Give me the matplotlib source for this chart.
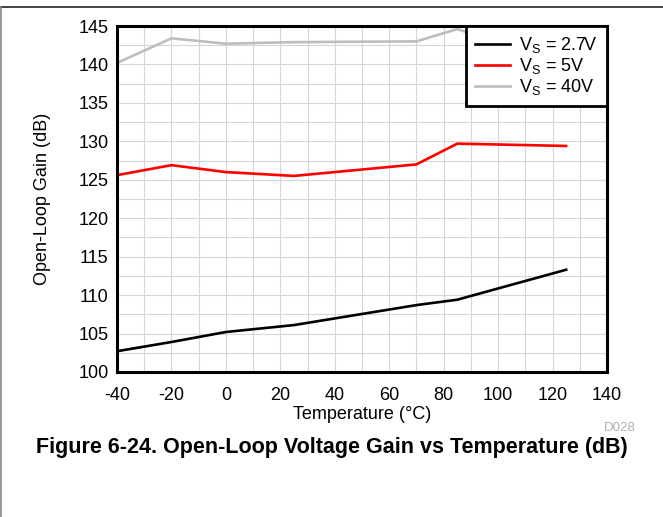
import matplotlib
matplotlib.use('Agg')
import matplotlib.pyplot as plt
from matplotlib.lines import Line2D

plt.rcParams['font.family'] = ['Liberation Sans', 'DejaVu Sans']
plt.rcParams['axes.unicode_minus'] = False

# Temperatura (°C) e ganho em malha aberta (dB) para cada tensão
temp = [-40, -20, 0, 25, 70, 85, 125]
ganho_2v7 = [102.7, 103.9, 105.2, 106.1, 108.7, 109.4, 113.3]
ganho_5v = [125.6, 126.9, 126.0, 125.5, 127.0, 129.7, 129.4]
ganho_40v = [140.2, 143.4, 142.7, 142.9, 143.0, 144.6, 140.0]

rotulos = ['V$_\\mathregular{S}$ = 2.7V', 'V$_\\mathregular{S}$ = 5V', 'V$_\\mathregular{S}$ = 40V']
xticks = list(range(-40, 141, 20))
yticks = list(range(100, 146, 5))

fig = plt.figure(figsize=(6.63, 5.17), dpi=100)
ax = fig.add_axes([0.1765, 0.2805, 0.739, 0.6692])

ax.plot(temp, ganho_2v7, color='black', lw=1.9, label=rotulos[0])
ax.plot(temp, ganho_5v, color='#ff0000', lw=1.9, label=rotulos[1])
ax.plot(temp, ganho_40v, color='#bdbdbd', lw=1.9, label=rotulos[2])

ax.set_xlim(-40, 140)
ax.set_ylim(100, 145)
ax.set_xticks(xticks)
ax.set_yticks(yticks)
ax.set_xticks(list(range(-40, 141, 10)), minor=True)
ax.set_yticks([100 + 2.5 * i for i in range(19)], minor=True)
ax.grid(which='both', color='#d6d6d6', lw=0.8)
ax.set_axisbelow(True)
ax.tick_params(which='both', length=0, labelsize=13)
ax.tick_params(axis='x', pad=11)
ax.tick_params(axis='y', pad=6)
for s in ax.spines.values():
    s.set_linewidth(2.2)

ax.set_xlabel('Temperature (°C)', fontsize=13, labelpad=1)
ax.set_ylabel('Open-Loop Gain (dB)', fontsize=13, labelpad=20)

leg = ax.legend(loc='upper right', fontsize=13, borderaxespad=0, fancybox=False,
                framealpha=1, edgecolor='black', handlelength=1.95, handletextpad=0.5,
                labelspacing=0.05, borderpad=0.5)
leg.get_frame().set_linewidth(2.0)

fig.text(0.958, 0.172, 'D028', color='#b0b0b0', fontsize=9.5, ha='right', va='center')
fig.text(0.5, 0.135, 'Figure 6-24. Open-Loop Voltage Gain vs Temperature (dB)',
         fontsize=15.5, fontweight='bold', ha='center', va='center')

# linhas da moldura
fig.add_artist(Line2D([0, 1], [1 - 7 / 517, 1 - 7 / 517], color='#222222', lw=1.2))
fig.add_artist(Line2D([0.001, 0.001], [0, 1 - 7 / 517], color='#888888', lw=1.2))

fig.savefig('out.png', dpi=100)
